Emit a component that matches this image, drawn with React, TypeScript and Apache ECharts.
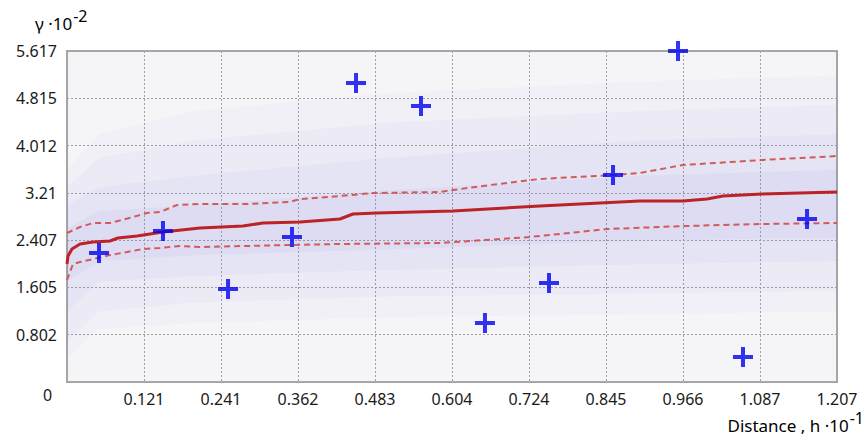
import React, { useEffect, useRef } from "react";
import * as echarts from "echarts";

// Experimental variogram points (lag distance, gamma)
const lagX = [0.0502, 0.1505, 0.2525, 0.3528, 0.4532, 0.5551, 0.6554, 0.7558, 0.8562, 0.9581, 1.06, 1.1604];
const lagY = [2.189, 2.563, 1.578, 2.461, 5.074, 4.684, 1.001, 1.68, 3.513, 5.617, 0.424, 2.766];

// Mean simulated variogram
const meanX = [0, 0.0016, 0.0078, 0.0204, 0.0408, 0.0674, 0.08, 0.1098, 0.1505, 0.2085, 0.2759, 0.3073, 0.3653, 0.428, 0.4484, 0.486, 0.6052, 0.7416, 0.8984, 0.9659, 1.0035, 1.0286, 1.0897, 1.2074];
const meanY = [2.002, 2.138, 2.257, 2.342, 2.376, 2.393, 2.444, 2.478, 2.546, 2.613, 2.647, 2.698, 2.715, 2.766, 2.851, 2.868, 2.902, 2.987, 3.072, 3.072, 3.105, 3.156, 3.19, 3.224];

// Upper envelope
const upperX = [0, 0.0204, 0.0408, 0.0674, 0.1035, 0.1254, 0.1458, 0.1725, 0.2085, 0.2822, 0.3496, 0.3653, 0.428, 0.4798, 0.5848, 0.6052, 0.6632, 0.7416, 0.8561, 0.8984, 0.9659, 1.0897, 1.2074];
const upperY = [2.529, 2.63, 2.698, 2.698, 2.8, 2.868, 2.885, 3.004, 3.021, 3.021, 3.055, 3.105, 3.156, 3.207, 3.224, 3.258, 3.343, 3.445, 3.513, 3.547, 3.683, 3.767, 3.835];

// Lower envelope
const lowerX = [0, 0.0094, 0.0204, 0.0408, 0.0674, 0.0941, 0.1192, 0.1458, 0.1772, 0.2085, 0.3496, 0.428, 0.5848, 0.7259, 0.773, 0.8467, 0.969, 1.0866, 1.2074];
const lowerY = [1.731, 2.002, 2.036, 2.087, 2.155, 2.206, 2.257, 2.274, 2.308, 2.291, 2.325, 2.342, 2.359, 2.461, 2.512, 2.596, 2.647, 2.681, 2.698];

// Density shading bands, outermost first
const bandX = [0, 0.05, 0.2, 0.5, 0.9, 1.2074];
const band0Low = [0.4, 0.9, 1.0, 1.1, 1.15, 1.2];
const band0High = [3.6, 4.2, 4.6, 4.9, 5.1, 5.2];
const band1Low = [0.7, 1.2, 1.35, 1.45, 1.5, 1.55];
const band1High = [3.3, 3.8, 4.1, 4.4, 4.6, 4.7];
const band2Low = [1.2, 1.7, 1.8, 1.9, 2.0, 2.05];
const band2High = [3.0, 3.3, 3.5, 3.8, 4.1, 4.2];
const band3Low = [1.7, 2.05, 2.15, 2.25, 2.4, 2.45];
const band3High = [2.6, 2.9, 3.0, 3.25, 3.5, 3.6];
const bandAlpha = [0.035, 0.04, 0.05, 0.06];

const xMax = 1.2074;
const xInterval = 0.12074;
const yMax = 5.61715;
const yInterval = 0.80245;

const FONT = "Noto Sans";

const zip = (xs: number[], ys: number[]) => xs.map((x, i) => [x, ys[i]]);

export default function App() {
  const ref = useRef<HTMLDivElement>(null);

  useEffect(() => {
    if (!ref.current) return;
    const chart = echarts.init(ref.current, undefined, { renderer: "svg" });

    const bands = [
      { low: band0Low, high: band0High },
      { low: band1Low, high: band1High },
      { low: band2Low, high: band2High },
      { low: band3Low, high: band3High },
    ];

    const fmt = (v: number) => (Math.abs(v) < 1e-9 ? "" : String(Math.round(v * 1000) / 1000));

    const plus = "path://M40,0H60V40H100V60H60V100H40V60H0V40H40Z";

    const rich = {
      a: { fontFamily: FONT, fontSize: 17, color: "#1a1a1a", lineHeight: 24, verticalAlign: "bottom" },
      b: { fontFamily: FONT, fontSize: 16, color: "#1a1a1a", lineHeight: 24, verticalAlign: "top", padding: [0, 0, 8, 1] },
    };

    chart.setOption({
      animation: false,
      backgroundColor: "#ffffff",
      grid: {
        left: 67,
        right: 28,
        top: 51,
        bottom: 59,
        show: true,
        backgroundColor: "#f5f5f7",
        borderColor: "#a8a8a8",
        borderWidth: 2,
      },
      xAxis: {
        type: "value",
        min: 0,
        max: xMax,
        interval: xInterval,
        axisLine: { show: false },
        axisTick: { show: false },
        axisLabel: {
          formatter: fmt,
          color: "#1a1a1a",
          fontFamily: FONT,
          fontSize: 16,
          margin: 9,
          showMaxLabel: true,
        },
        splitLine: { show: true, lineStyle: { color: "#a0a0a0", width: 1, type: [2, 2] } },
      },
      yAxis: {
        type: "value",
        min: 0,
        max: yMax,
        interval: yInterval,
        axisLine: { show: false },
        axisTick: { show: false },
        axisLabel: {
          formatter: fmt,
          color: "#1a1a1a",
          fontFamily: FONT,
          fontSize: 16,
          margin: 10,
          showMaxLabel: true,
        },
        splitLine: { show: true, lineStyle: { color: "#a0a0a0", width: 1, type: [2, 2] } },
      },
      graphic: [
        {
          type: "text",
          left: 35,
          top: 8,
          style: { text: "{a|γ ·10}{b|-2}", rich },
        },
        {
          type: "text",
          right: 1,
          top: 410,
          style: { text: "{a|Distance , h ·10}{b|-1}", rich },
        },
        { type: "text", left: 43, top: 387, style: { text: "0", font: `16px "${FONT}"`, fill: "#1a1a1a" } },
      ],
      series: [
        {
          type: "custom",
          z: 1,
          clip: true,
          silent: true,
          data: bands.map((_, i) => i),
          renderItem: (params: any, api: any) => {
            const b = bands[params.dataIndex];
            const top = bandX.map((x, i) => api.coord([x, b.high[i]]));
            const bot = bandX.map((x, i) => api.coord([x, b.low[i]])).reverse();
            return {
              type: "polygon",
              shape: { points: top.concat(bot) },
              style: { fill: `rgba(120,110,230,${bandAlpha[params.dataIndex]})` },
            };
          },
        },
        {
          type: "line",
          z: 3,
          data: zip(upperX, upperY),
          showSymbol: false,
          lineStyle: { color: "#d25a5a", width: 2, type: [6, 4] },
        },
        {
          type: "line",
          z: 3,
          data: zip(lowerX, lowerY),
          showSymbol: false,
          lineStyle: { color: "#d25a5a", width: 2, type: [6, 4] },
        },
        {
          type: "line",
          z: 4,
          data: zip(meanX, meanY),
          showSymbol: false,
          lineStyle: { color: "#bb2326", width: 3 },
        },
        {
          type: "scatter",
          z: 5,
          data: zip(lagX, lagY),
          symbol: plus,
          symbolSize: 20,
          itemStyle: { color: "#0000f0" },
          clip: false,
        },
      ],
    });

    return () => chart.dispose();
  }, []);

  return <div ref={ref} style={{ width: 865, height: 441, position: "absolute", left: 0, top: 0 }} />;
}
